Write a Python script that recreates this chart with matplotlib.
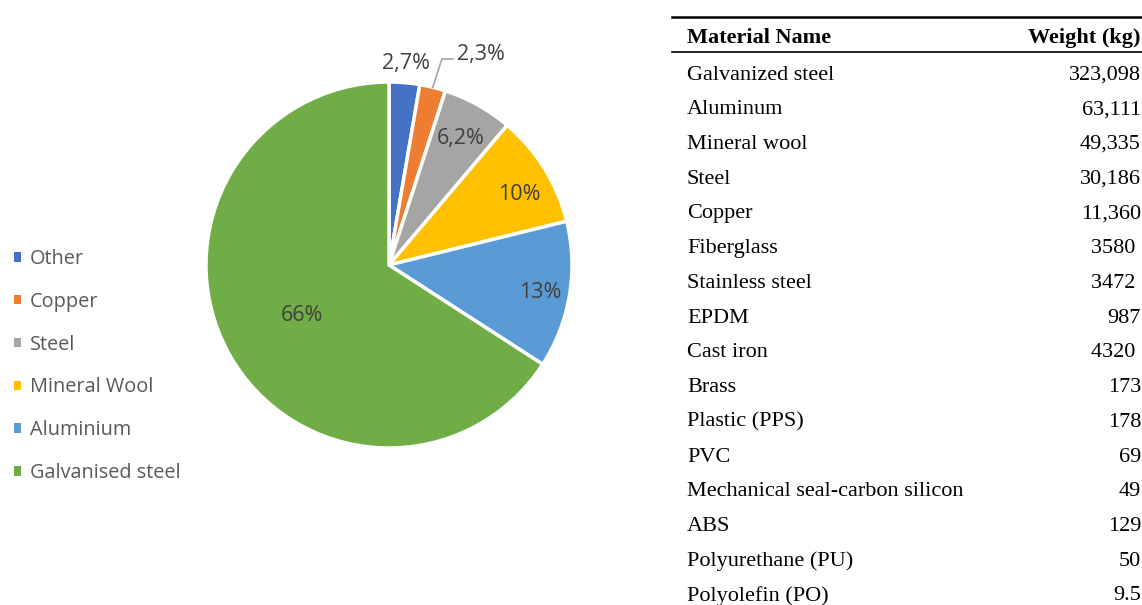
import matplotlib
matplotlib.use("Agg")
import matplotlib.pyplot as plt
from matplotlib.patches import Patch
from matplotlib.lines import Line2D
import numpy as np

# pie data (clockwise from 12 o'clock)
pie_names = ["Other", "Copper", "Steel", "Mineral Wool", "Aluminium", "Galvanised steel"]
pie_pct = [2.7, 2.3, 6.2, 10, 13, 66]
pie_labels = ["2,7%", "2,3%", "6,2%", "10%", "13%", "66%"]
pie_colors = ["#4472C4", "#ED7D31", "#A5A5A5", "#FFC000", "#5B9BD5", "#70AD47"]

# table data
mat_names = ["Galvanized steel", "Aluminum", "Mineral wool", "Steel", "Copper",
             "Fiberglass", "Stainless steel", "EPDM", "Cast iron", "Brass",
             "Plastic (PPS)", "PVC", "Mechanical seal-carbon silicon", "ABS",
             "Polyurethane (PU)", "Polyolefin (PO)"]
mat_weights = ["323,098", "63,111", "49,335", "30,186", "11,360", "3580 ", "3472 ",
               "987", "4320 ", "173", "178", "69", "49", "129", "50", "9.5"]

W, H = 1142, 605
fig = plt.figure(figsize=(W / 100, H / 100), dpi=100)

# ---- PIE ----
cx, cy, R = 389, 265, 183
ax = fig.add_axes([(cx - R) / W, (H - cy - R) / H, 2 * R / W, 2 * R / H])
wedges, _ = ax.pie(pie_pct, colors=pie_colors, startangle=90, counterclock=False,
                   wedgeprops=dict(edgecolor="white", linewidth=2.5))
ax.set_xlim(-1, 1)
ax.set_ylim(-1, 1)
ax.axis("off")

lab_r = [1.12, 1.0, 0.81, 0.815, 0.837, 0.543]
lab_da = [0, 0, 0, -2.5, 0, 0]
for w, lab, r, da in zip(wedges, pie_labels, lab_r, lab_da):
    a = np.deg2rad((w.theta1 + w.theta2) / 2 + da)
    x, y = r * np.cos(a), r * np.sin(a)
    ha = "center"
    if lab == "2,3%":
        # leader line for the small copper slice
        ex = x + 0.05
        ax.plot([x, ex, ex + 0.06], [y, 1.126, 1.126], color="#A6A6A6", lw=1.2,
                clip_on=False)
        x, y = ex + 0.085, 1.164
        ha = "left"
    ax.text(x, y - 0.014, lab, ha=ha, va="center", fontsize=15.5, color="#404040",
            family="Open Sans")

handles = [Patch(facecolor=c, edgecolor="none") for c in pie_colors]
leg = fig.legend(handles, pie_names, loc="upper left", bbox_to_anchor=(0.0035, (H - 239) / H),
                 frameon=False, fontsize=14.3, handlelength=0.36, handleheight=0.36,
                 handletextpad=0.45, labelspacing=1.15, borderaxespad=0.1)
for t in leg.get_texts():
    t.set_color("#595959")
    t.set_family("Open Sans")

# ---- TABLE ----
x0, x1 = 672 / W, 1.0
serif = "Liberation Serif"
fs = 16
fig.add_artist(Line2D([x0, x1], [1 - 17 / H] * 2, color="black", lw=1.8))
fig.add_artist(Line2D([x0, x1], [1 - 52 / H] * 2, color="black", lw=1.2))
fig.text(687 / W, 1 - 38 / H, "Material Name", ha="left", va="center",
         fontsize=fs, fontweight="bold", family=serif)
fig.text(1140 / W, 1 - 38 / H, "Weight (kg)", ha="right", va="center",
         fontsize=fs, fontweight="bold", family=serif)
row0, dy = 75, 34.73
for i, (n, wt) in enumerate(zip(mat_names, mat_weights)):
    yy = 1 - (row0 + i * dy) / H
    fig.text(687 / W, yy, n, ha="left", va="center", fontsize=fs, family=serif)
    fig.text(1141 / W, yy, wt, ha="right", va="center", fontsize=fs, family=serif)

fig.savefig("out.png", dpi=100, facecolor="white")
